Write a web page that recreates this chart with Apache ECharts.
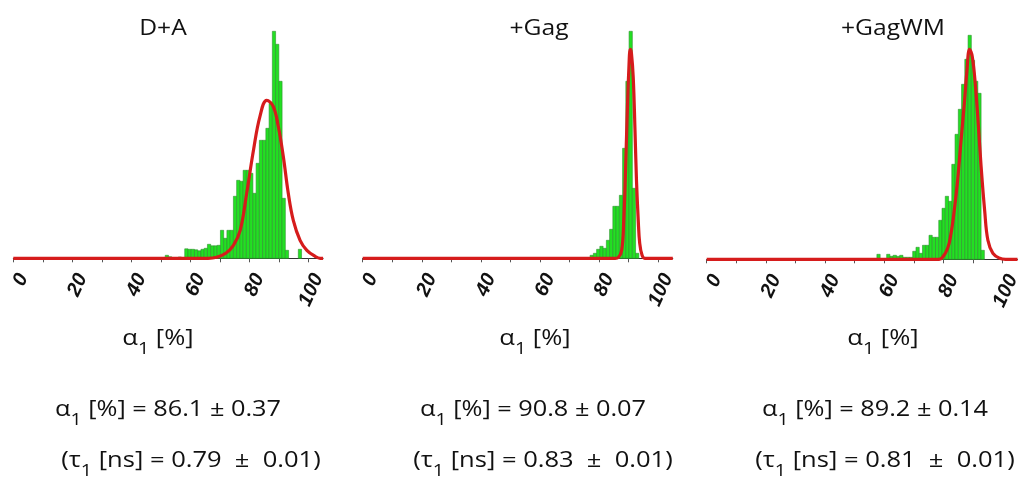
<!DOCTYPE html>
<html><head><meta charset="utf-8">
<script src="https://cdn.jsdelivr.net/npm/echarts@6/dist/echarts.min.js"></script>
<style>html,body{margin:0;padding:0;background:#fff}#c{width:1018px;height:479px}</style>
</head><body><div id="c"></div><script>
// ---- data ----
const panelTitles = ['D+A', '+Gag', '+GagWM'];
const binWidth = 1.1;
const binStartDA = 51.5;
const countsDA = [3, 1.5, 0, 0, 1.3, 0, 9.5, 9, 9, 8.5, 7.5, 9, 10, 14, 12.5, 12.5, 13, 28, 20, 28, 28, 62, 78, 77, 88, 88, 85, 65, 95, 118, 118, 130, 155, 227, 214, 177, 60, 8, 0, 0, 0, 9];
const binStartGag = 77.0;
const countsGag = [3, 5, 9, 12, 10, 18, 29, 52, 52, 63, 110, 177, 227, 70, 5];
const binStartGagWM = 57.5;
const countsGagWM = [5, 0, 0, 5, 3, 4, 3, 4, 2, 2, 2, 8, 12, 6, 14, 14, 24, 22, 22, 39, 51, 63, 58, 95, 125, 150, 175, 200, 224, 199, 178, 166, 9, 0];

const fitDA = [[0,0],[66,0],[68.9,1],[72,5],[74.6,13],[76.9,28],[79.1,65],[81.4,108],[83.6,142],[85.9,158],[88.1,152],[89.8,132],[91.5,102],[93.2,65],[94.9,38],[97.2,18],[99.5,8],[102.3,2],[104,0],[105,0]];
const fitGag = [[0,0],[85.5,0],[86.5,0.7],[87.7,8],[88.4,38],[89.0,88],[89.5,138],[90.1,188],[90.6,209],[91.0,205],[91.6,181],[92.2,128],[92.7,78],[93.3,38],[93.8,15],[94.6,3],[95.5,0],[105,0]];
const fitGagWM = [[0,0],[78.5,0],[79.7,2],[81.4,11],[82.5,25],[83.6,48],[84.8,80],[85.9,118],[87.1,158],[87.9,188],[88.8,210],[89.7,203],[90.8,173],[91.8,133],[92.7,93],[93.9,49],[95.0,19],[96.7,6],[99,1],[101,0],[105,0]];

const tickValues = [0, 10, 20, 30, 40, 50, 60, 70, 80, 90, 100];
const labelValues = [0, 20, 40, 60, 80, 100];
const axisNameText = '{m|α}{s|1}{m| [%]}';
const alphaLines = ['86.1 ± 0.37', '90.8 ± 0.07', '89.2 ± 0.14'];
const tauLines = ['0.79  ±  0.01', '0.83  ±  0.01', '0.81  ±  0.01'];

// ---- chart ----
function bins(start, counts) {
  const out = [];
  counts.forEach((c, i) => { if (c > 0) out.push([start + i * binWidth, start + (i + 1) * binWidth, c]); });
  return out;
}
const histData = [bins(binStartDA, countsDA), bins(binStartGag, countsGag), bins(binStartGagWM, countsGagWM)];
const fits = [fitDA, fitGag, fitGagWM];

const grids = [
  { left: 13.3, top: 20, width: 309.8, height: 238.3, outerBoundsMode: 'none', containLabel: false },
  { left: 362.7, top: 20, width: 310.1, height: 238.3, outerBoundsMode: 'none', containLabel: false },
  { left: 706.7, top: 21, width: 310.8, height: 238.3, outerBoundsMode: 'none', containLabel: false }
];
const FONT = '"Open Sans", "DejaVu Sans", sans-serif';
const LFONT = '"Liberation Sans", Arial, sans-serif';

const xAxes = grids.map((g, i) => ({
  type: 'value', gridIndex: i, min: 0, max: 105,
  splitLine: { show: false },
  axisLine: { show: true, onZero: false, lineStyle: { color: '#333', width: 1 } },
  axisTick: { show: true, customValues: tickValues, length: 4, lineStyle: { color: '#555' } },
  axisLabel: {
    customValues: labelValues, rotate: 65, align: 'right', verticalAlign: 'middle',
    margin: 12, hideOverlap: false,
    fontFamily: LFONT, fontSize: 20, fontWeight: 'bold', fontStyle: 'italic', color: '#111',
    formatter: function (v) { return '{v|' + v + '}'; },
    rich: { v: { fontFamily: LFONT, fontSize: 20, fontWeight: 'bold', fontStyle: 'italic', color: '#111', lineHeight: 20, padding: [22, 0, 0, 0] } }
  }
}));
const yAxes = grids.map((g, i) => ({ type: 'value', gridIndex: i, min: 0, max: 238.3, show: false }));

const series = [];
histData.forEach((d, i) => {
  series.push({
    type: 'custom', xAxisIndex: i, yAxisIndex: i, data: d, encode: { x: [0, 1], y: 2 }, z: 2,
    renderItem: function (params, api) {
      const p0 = api.coord([api.value(0), api.value(2)]);
      const p1 = api.coord([api.value(1), 0]);
      return { type: 'rect', shape: { x: p0[0], y: p0[1], width: p1[0] - p0[0], height: p1[1] - p0[1] },
        style: { fill: '#22e022', stroke: '#2f8f2f', lineWidth: 0.6 } };
    }
  });
});
fits.forEach((d, i) => {
  series.push({
    type: 'line', xAxisIndex: i, yAxisIndex: i, data: d, smooth: 0.4, showSymbol: false, symbol: 'none', z: 5,
    lineStyle: { color: '#d61c1c', width: 3.2 }
  });
});

const rich = {
  m: { fontFamily: FONT, fontSize: 22, lineHeight: 26, verticalAlign: 'top', color: '#111' },
  s: { fontFamily: FONT, fontSize: 17, lineHeight: 17, padding: [13, 0, 0, 0], verticalAlign: 'top', color: '#111' }
};
function txt(x, y, text, sx, useRich) {
  const st = { text: text, align: 'center', verticalAlign: 'middle', fill: '#111', font: '22px ' + FONT };
  if (useRich) st.rich = rich;
  return { type: 'text', x: x, y: y, scaleX: sx, style: st, z: 10 };
}
const titleX = [163, 539, 893];
const nameX = [158, 535, 883];
const line1X = [168, 533, 875];
const line2X = [191, 543, 885];
const graphic = [];
for (let i = 0; i < 3; i++) {
  graphic.push(txt(titleX[i], 29, panelTitles[i], 1.12, false));
  graphic.push(txt(nameX[i], 341, axisNameText, 1.16, true));
  graphic.push(txt(line1X[i], 412, '{m|α}{s|1}{m| [%] = ' + alphaLines[i] + '}', 1.15, true));
  graphic.push(txt(line2X[i], 463, '{m|(τ}{s|1}{m| [ns] = ' + tauLines[i] + ')}', 1.16, true));
}

const chart = echarts.init(document.getElementById('c'), null, { renderer: 'canvas' });
chart.setOption({
  animation: false,
  backgroundColor: '#fff',
  grid: grids,
  xAxis: xAxes,
  yAxis: yAxes,
  series: series,
  graphic: graphic
});
</script></body></html>
